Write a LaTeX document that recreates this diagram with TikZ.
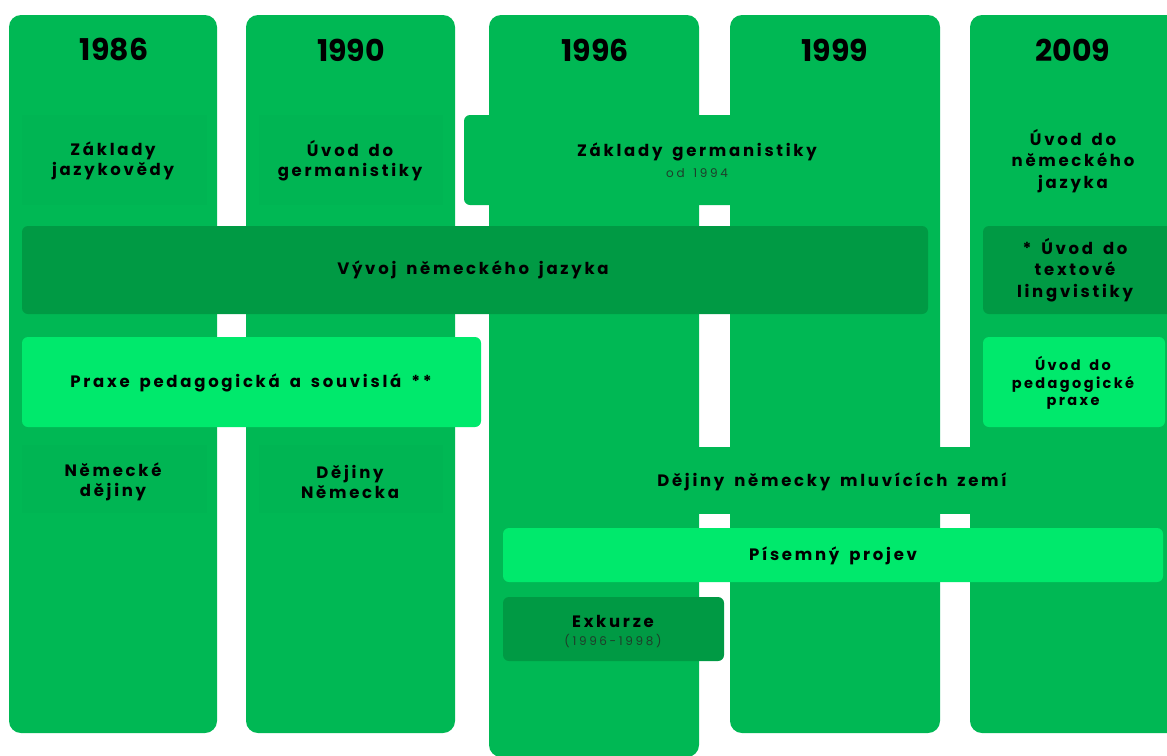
\documentclass[tikz,border=0pt]{standalone}
\usepackage{fontspec}
\setmainfont{Poppins}
\newfontfamily\labfont{Poppins}[LetterSpace=16.5,WordSpace=1.6]
\newfontfamily\smallfont{Poppins}[LetterSpace=22,WordSpace=1.5]
\definecolor{colg}{RGB}{0,184,84}
\definecolor{darkg}{RGB}{0,154,68}
\definecolor{lightg}{RGB}{0,233,108}
\definecolor{faintg}{RGB}{0,181,83}
\definecolor{subg}{RGB}{30,62,42}
\begin{document}
\begin{tikzpicture}[x=1pt,y=-1pt,
  colbox/.style={fill=colg, rounded corners=12pt},
  bandbox/.style={fill=colg},
  darkbox/.style={fill=darkg, rounded corners=6pt},
  lightbox/.style={fill=lightg, rounded corners=6pt},
  faintbox/.style={fill=faintg},
  year/.style={font=\fontsize{30}{30}\selectfont\bfseries, text=black, inner sep=0pt},
  lab/.style={font=\labfont\fontsize{16.5}{20}\selectfont\bfseries, text=black, align=center, inner sep=0pt},
  labw/.style={font=\labfont\fontsize{16.5}{21.5}\selectfont\bfseries, text=black, align=center, inner sep=0pt},
  labs/.style={font=\labfont\fontsize{14.5}{17.5}\selectfont\bfseries, text=black, align=center, inner sep=0pt},
  sub/.style={font=\smallfont\fontsize{12}{12}\selectfont, text=subg, inner sep=0pt}
]
\useasboundingbox (0,0) rectangle (1167,755);
\clip (0,0) rectangle (1167,755);
% columns
\fill[colbox] (9,15) rectangle (217,733);
\fill[colbox] (246,15) rectangle (455,733);
\fill[colbox] (489,15) rectangle (699,757);
\fill[colbox] (730,15) rectangle (940,733);
\fill[colbox] (970,15) rectangle (1185,733);
% faint backgrounds
\fill[faintbox] (22,115) rectangle (207,205);
\fill[faintbox] (259,115) rectangle (443,205);
\fill[faintbox] (22,445) rectangle (207,513);
\fill[faintbox] (259,445) rectangle (443,513);
% merged bands
\fill[colg, rounded corners=6pt] (464,115) rectangle (935,205);
\fill[bandbox] (489,447) rectangle (1185,514);
% dark and light boxes
\fill[darkbox] (22,226) rectangle (928,314);
\fill[darkbox] (983,226) rectangle (1180,314);
\fill[lightbox] (22,337) rectangle (481,427);
\fill[lightbox] (983,337) rectangle (1165,427);
\fill[lightbox] (503,528) rectangle (1163,582);
\fill[darkbox] (503,597) rectangle (724,661);
% years
\node[year] (y1) at (114,50) {1986};
\node[year] (y2) at (351,50) {1990};
\node[year] (y3) at (595,50) {1996};
\node[year] (y4) at (835,50) {1999};
\node[year] (y5) at (1073,50) {2009};
% texts
\node[lab] (t1) at (113,161) {Základy\\jazykovědy};
\node[lab] (t2) at (350,161) {Úvod do\\germanistiky};
\node[lab] (t3) at (697,152) {Základy germanistiky};
\node[sub] (t3s) at (697,173) {od 1994};
\node[labw] (t4) at (1073,161) {Úvod do\\německého\\jazyka};
\node[lab] (t5) at (473,270) {Vývoj německého jazyka};
\node[labw] (t6) at (1075,270) {* Úvod do\\textové\\lingvistiky};
\node[lab] (t7) at (251,383) {Praxe pedagogická a souvislá **};
\node[labs] (t8) at (1073,383) {Úvod do\\pedagogické\\praxe};
\node[lab] (t9) at (113,482) {Německé\\dějiny};
\node[lab] (t10) at (350,482) {Dějiny\\Německa};
\node[lab] (t11) at (832,482) {Dějiny německy mluvících zemí};
\node[lab] (t12) at (833,556) {Písemný projev};
\node[lab] (t13) at (613,621) {Exkurze};
\node[sub] (t13s) at (613,641) {(1996-1998)};
\end{tikzpicture}
\end{document}
